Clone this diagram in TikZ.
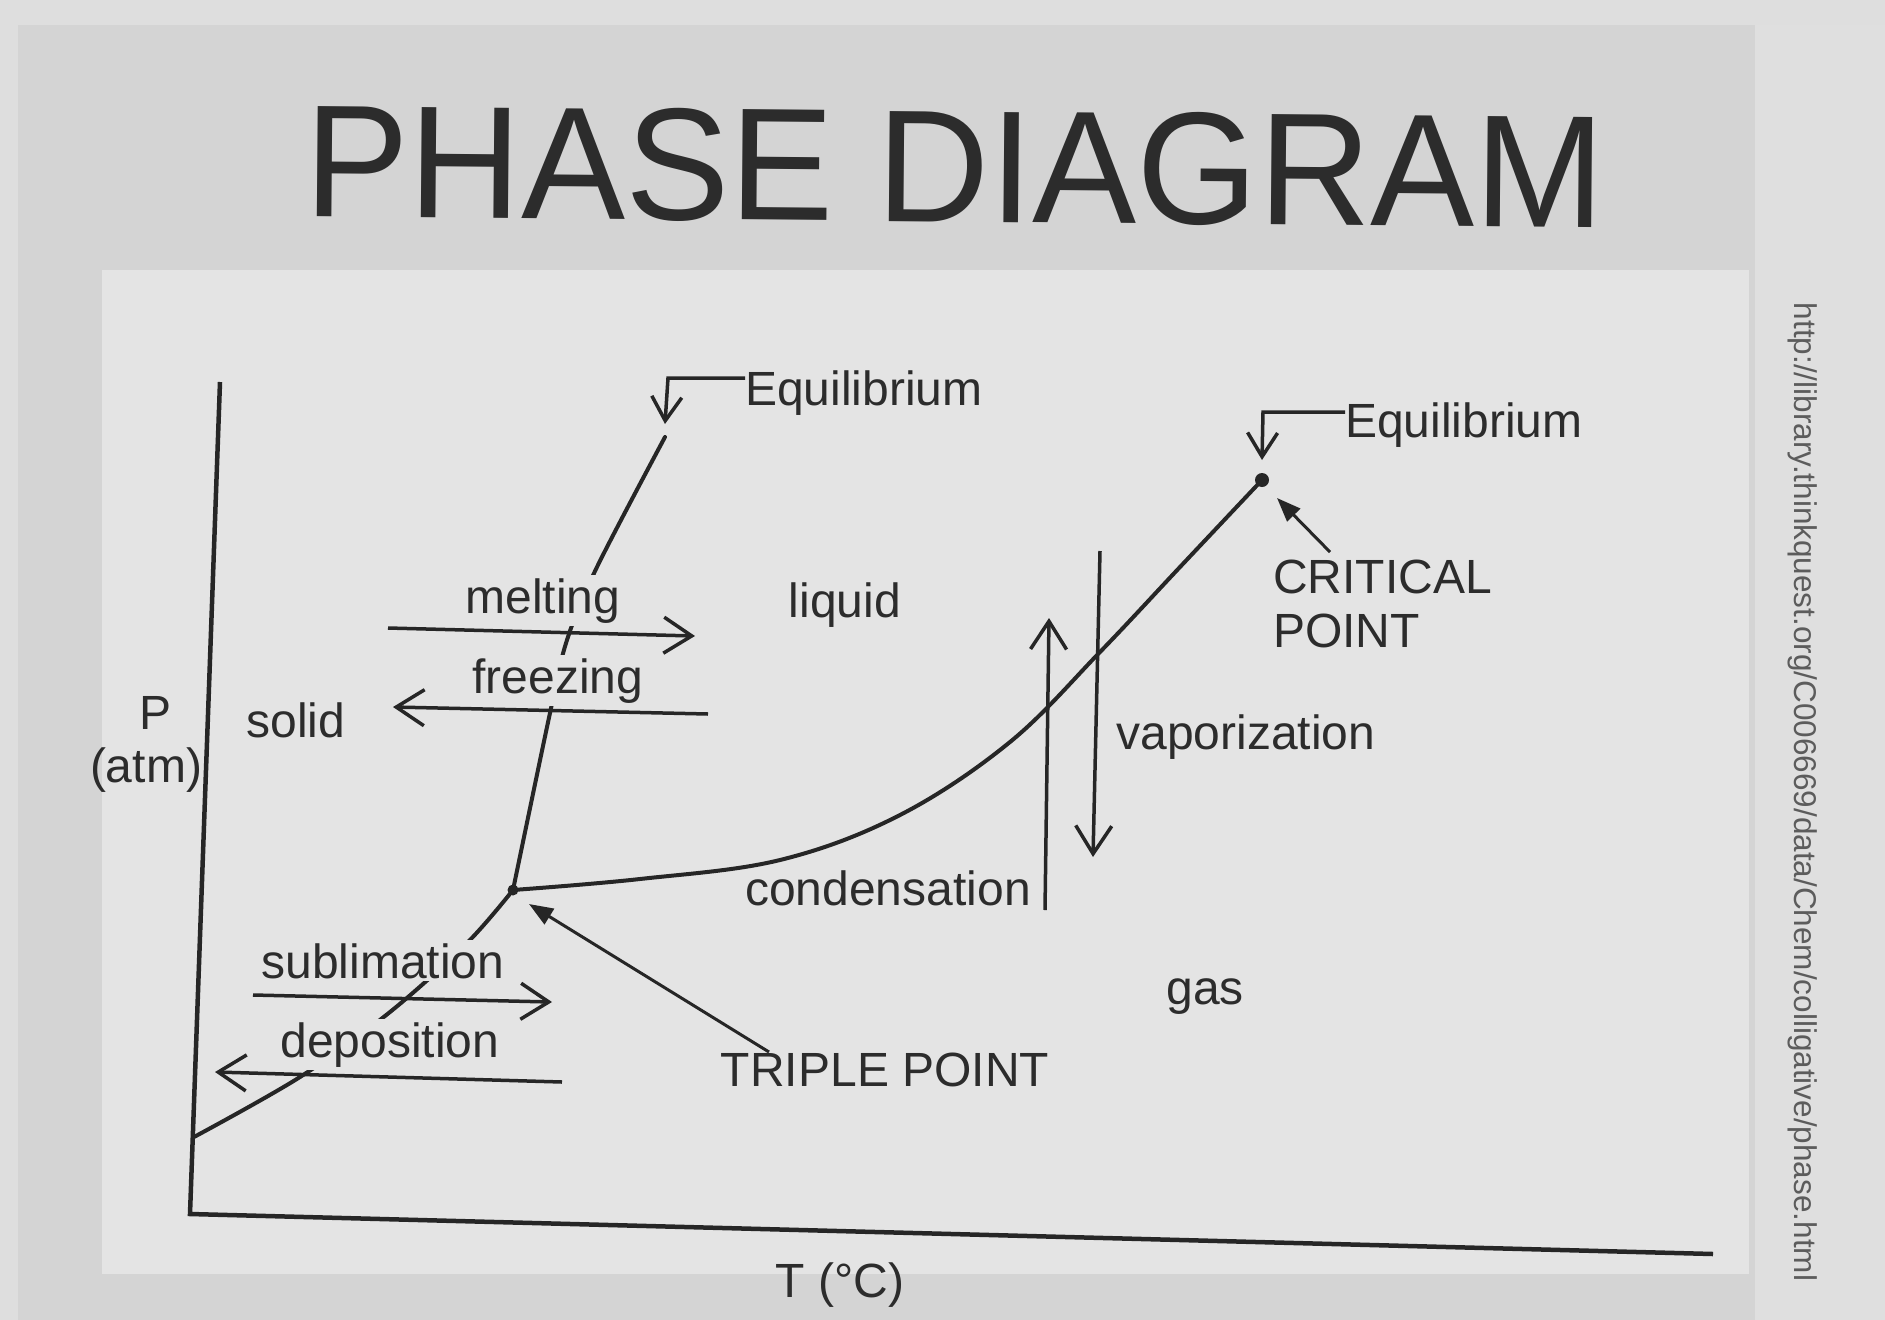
\documentclass[tikz,border=0pt]{standalone}
\usepackage{fontspec}
\setmainfont{Liberation Sans}
\usetikzlibrary{arrows.meta}
\definecolor{bgtop}{HTML}{DEDEDE}
\definecolor{bgband}{HTML}{D4D4D4}
\definecolor{plotbg}{HTML}{E4E4E4}
\definecolor{rightbg}{HTML}{DFDFDF}
\definecolor{txt}{HTML}{2C2C2C}
\definecolor{ln}{HTML}{262626}
\definecolor{urltxt}{HTML}{5C5C5C}
\begin{document}
\begin{tikzpicture}[x=1pt,y=-1pt,
  lbl/.style={font=\fontsize{48}{56}\selectfont, text=txt, inner sep=3pt},
  hide/.style={fill=plotbg},
  curve/.style={draw=ln, line width=4pt, line join=round, line cap=round},
  oarr/.style={draw=ln, line width=3.5pt, -{Straight Barb[length=28pt,width=36pt]}},
  farr/.style={draw=ln, line width=3pt, -{Triangle[length=24pt,width=18pt]}},
  axisline/.style={draw=ln, line width=4.5pt, line join=miter}]

\useasboundingbox (0,0) rectangle (1885,1320);
% photo background
\fill[bgtop] (0,0) rectangle (1885,1320);
\fill[bgband] (18,25) rectangle (1755,1320);
\fill[rightbg] (1755,25) rectangle (1885,1320);
\fill[plotbg] (102,270) rectangle (1749,1274);

% title
\node[font=\fontsize{160}{170}\selectfont, text=txt, xscale=0.975, rotate=-0.5, anchor=base, inner sep=0pt] (title) at (955,222) {PHASE DIAGRAM};

% source URL
\node[rotate=-90, font=\fontsize{31.5}{32}\selectfont, text=urltxt, inner sep=0pt] (url) at (1803,792) {http://library.thinkquest.org/C006669/data/Chem/colligative/phase.html};

% key points
\coordinate (ytop) at (220,382);
\coordinate (origin) at (190,1214);
\coordinate (xend) at (1713,1254);
\coordinate (tp) at (513,890);
\coordinate (cp) at (1262,480);
\coordinate (melttop) at (665,437);
\coordinate (sublstart) at (194,1137);

% axes
\draw[axisline] (ytop) -- (origin) -- (xend);

% phase boundaries
\draw[curve] plot[smooth, tension=0.55] coordinates {(sublstart) (300,1077) (390,1012) (467,943) (tp)};
\draw[curve] plot[smooth, tension=0.55] coordinates {(tp) (550,713) (567,640) (597,567) (melttop)};
\draw[curve] plot[smooth, tension=0.6] coordinates {(tp) (640,879) (780,860) (900,815) (1010,742) (1100,652) (1180,567) (cp)};
\fill[ln] (cp) circle (7pt);
\fill[ln] (tp) circle (5.5pt);

% labels (those with 'hide' interrupt the lines as in the picture)
\node[lbl, hide, anchor=base] (melting) at (543,613) {melting};
\node[lbl, hide, anchor=base] (freezing) at (558,693) {freezing};
\node[lbl, hide, anchor=base] (sublimation) at (383,978) {sublimation};
\node[lbl, hide, anchor=base] (deposition) at (390,1057) {deposition};
\node[lbl, anchor=base] (solid) at (296,737) {solid};
\node[lbl, anchor=base] (liquid) at (845,617) {liquid};
\node[lbl, anchor=base] (gas) at (1205,1004) {gas};
\node[lbl, anchor=base] (condensation) at (888,905) {condensation};
\node[lbl, anchor=base] (vaporization) at (1246,749) {vaporization};
\node[lbl, anchor=base] (P) at (156,729) {P};
\node[lbl, anchor=base] (atm) at (146,782) {(atm)};
\node[lbl, anchor=base] (T) at (840,1297) {T (°C)};
\node[lbl, anchor=base] (tplbl) at (885,1086) {TRIPLE POINT};
\node[lbl, anchor=base west, inner sep=0pt] (crit1) at (1273,593) {CRITICAL};
\node[lbl, anchor=base west, inner sep=0pt] (crit2) at (1273,647) {POINT};
\node[lbl, anchor=base west, inner sep=0pt] (eq1) at (745,405) {Equilibrium};
\node[lbl, anchor=base west, inner sep=0pt] (eq2) at (1345,437) {Equilibrium};

% process arrows
\coordinate (mS) at (388,628);  \coordinate (mE) at (695,636);
\coordinate (fS) at (708,714);  \coordinate (fE) at (393,707);
\coordinate (sS) at (253,995);  \coordinate (sE) at (552,1002);
\coordinate (dS) at (562,1082); \coordinate (dE) at (215,1072);
\coordinate (cS) at (1045,910); \coordinate (cE) at (1049,618);
\coordinate (vS) at (1100,551); \coordinate (vE) at (1093,857);
\draw[oarr] (mS) -- (mE);
\draw[oarr] (fS) -- (fE);
\draw[oarr] (sS) -- (sE);
\draw[oarr] (dS) -- (dE);
\draw[oarr] (cS) -- (cE);
\draw[oarr] (vS) -- (vE);

% equilibrium pointers
\coordinate (eq1c) at (668,378); \coordinate (eq1tip) at (665,424);
\coordinate (eq2c) at (1263,412); \coordinate (eq2tip) at (1262,460);
\draw[oarr, -{Straight Barb[length=24pt,width=30pt]}] (eq1.west |- eq1c) -- (eq1c) -- (eq1tip);
\draw[oarr, -{Straight Barb[length=24pt,width=30pt]}] (eq2.west |- eq2c) -- (eq2c) -- (eq2tip);

% point pointers
\coordinate (tpS) at (769,1052); \coordinate (tpE) at (529,904);
\coordinate (cpS) at (1330,552); \coordinate (cpE) at (1277,498);
\draw[farr] (tpS) -- (tpE);
\draw[farr] (cpS) -- (cpE);
\end{tikzpicture}
\end{document}
